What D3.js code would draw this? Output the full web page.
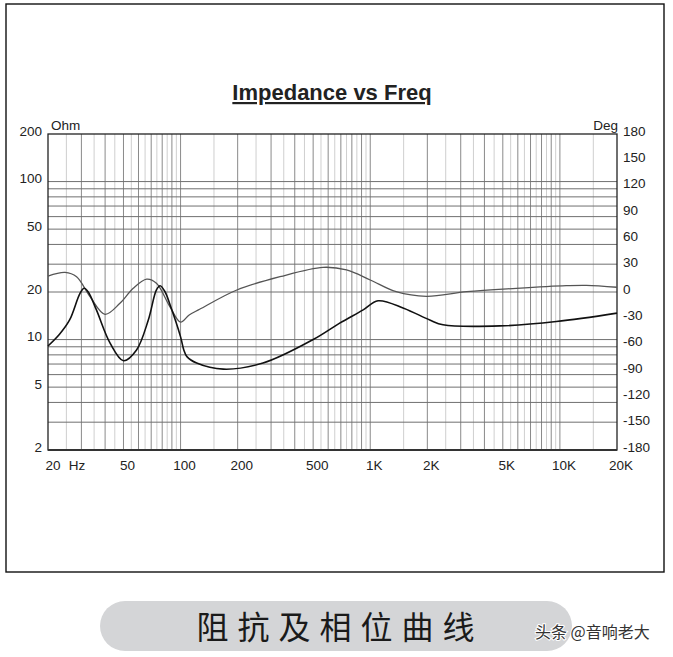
<!DOCTYPE html>
<html><head><meta charset="utf-8">
<script src="https://cdn.jsdelivr.net/npm/d3@7/dist/d3.min.js"></script>
<style>body{margin:0;background:#fff}svg{display:block}</style>
</head><body>
<svg id="c" width="673" height="657"></svg>
<script>
// ---- data ----
const impFreq = [20, 23, 26, 29.5, 31, 32.6, 36, 42.5, 50, 58.6, 67.6, 74.6, 78, 82.9, 88, 100, 104, 108, 121.6, 168, 272, 500, 690, 918, 1100, 1500, 2060, 2420, 4820, 9570, 20000];
const impOhm  = [9.1, 10.8, 13.3, 19.6, 21.1, 20.0, 15.4, 9.5, 7.35, 8.6, 13.3, 20.6, 21.9, 20.0, 16.6, 10.4, 8.6, 7.8, 7.1, 6.5, 7.1, 10, 12.7, 15.4, 17.6, 15.8, 13.3, 12.4, 12.2, 13.0, 14.7];
const phFreq = [20, 24.6, 28.3, 33.3, 40, 47.9, 56.3, 66.3, 74.6, 87.8, 100, 111, 126, 198, 334, 564, 750, 1000, 1370, 1980, 3230, 5890, 10800, 13800, 20000];
const phDeg  = [18.2, 22.4, 17.4, -5.3, -25.4, -12.9, 4.2, 14.6, 9.9, -16.7, -34.2, -26.2, -19.7, 2.3, 17.4, 28.1, 25.1, 13.7, 0.3, -5.0, 0.4, 4.2, 7.2, 7.6, 5.4];
const ohmTicks = [200, 100, 50, 20, 10, 5, 2];
const degTicks = [180, 150, 120, 90, 60, 30, 0, -30, -60, -90, -120, -150, -180];
const freqTicks = [50, 100, 200, 500, 1000, 2000, 5000, 10000, 20000];
const freqTickLabels = ["50", "100", "200", "500", "1K", "2K", "5K", "10K", "20K"];
const ohmGrid = [100, 90, 80, 70, 60, 50, 40, 30, 20, 10, 9, 8, 7, 6, 5, 4, 3];

// ---- layout ----
const L = 48, R = 617, T = 134, B = 450;
const svg = d3.select("#c");
const x = d3.scaleLog().domain([20, 20000]).range([L, R]);
const y = d3.scaleLog().domain([2, 200]).range([B, T]);
const yp = d3.scaleLinear().domain([-180, 180]).range([B, T]);

// outer frame
svg.append("rect").attr("x", 6).attr("y", 4).attr("width", 658).attr("height", 568)
  .attr("fill", "none").attr("stroke", "#111").attr("stroke-width", 1.4);

// title
svg.append("text").attr("x", 332).attr("y", 100).attr("text-anchor", "middle")
  .attr("font-family", "Liberation Sans, Arial, sans-serif").attr("font-weight", "bold")
  .attr("font-size", 22).attr("fill", "#222").attr("text-decoration", "underline")
  .text("Impedance vs Freq");

// vertical grid
const vg = [];
for (let d = 10; d <= 10000; d *= 10) {
  for (let m = 1; m < 10; m += 0.5) {
    const f = m * d;
    if (f > 20 && f < 20000) vg.push({f, major: Number.isInteger(m)});
  }
}
svg.append("g").selectAll("line").data(vg).join("line")
  .attr("x1", d => x(d.f)).attr("x2", d => x(d.f)).attr("y1", T).attr("y2", B)
  .attr("stroke", d => d.major ? "#8a8a8a" : "#cfcfcf").attr("stroke-width", 1);

// horizontal grid
svg.append("g").selectAll("line").data(ohmGrid).join("line")
  .attr("x1", L).attr("x2", R).attr("y1", d => y(d)).attr("y2", d => y(d))
  .attr("stroke", "#707070").attr("stroke-width", 1);

// plot border
svg.append("rect").attr("x", L).attr("y", T).attr("width", R - L).attr("height", B - T)
  .attr("fill", "none").attr("stroke", "#222").attr("stroke-width", 1.3);
svg.append("line").attr("x1", L).attr("x2", R).attr("y1", B).attr("y2", B)
  .attr("stroke", "#333").attr("stroke-width", 2);

const font = "Liberation Sans, Arial, sans-serif";
// left labels
svg.append("g").selectAll("text").data(ohmTicks).join("text")
  .attr("x", 42).attr("y", d => y(d) - 3).attr("dy", "0.35em").attr("text-anchor", "end")
  .attr("font-family", font).attr("font-size", 13.5).attr("fill", "#222").text(d => d);
svg.append("text").attr("x", 51).attr("y", 130).attr("font-family", font).attr("font-size", 13.5)
  .attr("fill", "#222").text("Ohm");
// right labels
svg.append("g").selectAll("text").data(degTicks).join("text")
  .attr("x", 623).attr("y", d => yp(d) - 3).attr("dy", "0.35em").attr("text-anchor", "start")
  .attr("font-family", font).attr("font-size", 13.5).attr("fill", "#222").text(d => d);
svg.append("text").attr("x", 618).attr("y", 130).attr("text-anchor", "end").attr("font-family", font)
  .attr("font-size", 13.5).attr("fill", "#222").text("Deg");
// x labels
svg.append("g").selectAll("text").data(freqTicks).join("text")
  .attr("x", d => x(d) + 4).attr("y", 465).attr("dy", "0.35em").attr("text-anchor", "middle")
  .attr("font-family", font).attr("font-size", 13.5).attr("fill", "#222")
  .text((d, i) => freqTickLabels[i]);
svg.append("text").attr("x", x(20) + 5).attr("y", 465).attr("dy", "0.35em").attr("text-anchor", "middle")
  .attr("font-family", font).attr("font-size", 13.5).attr("fill", "#222").text("20");
svg.append("text").attr("x", 77).attr("y", 465).attr("dy", "0.35em").attr("text-anchor", "middle")
  .attr("font-family", font).attr("font-size", 13.5).attr("fill", "#222").text("Hz");

// curves
const phaseLine = d3.line().x((d, i) => x(phFreq[i])).y(d => yp(d)).curve(d3.curveCatmullRom.alpha(0.5));
svg.append("path").attr("d", phaseLine(phDeg)).attr("fill", "none").attr("stroke", "#555").attr("stroke-width", 1.3);
const impLine = d3.line().x((d, i) => x(impFreq[i])).y(d => y(d)).curve(d3.curveCatmullRom.alpha(0.5));
svg.append("path").attr("d", impLine(impOhm)).attr("fill", "none").attr("stroke", "#111").attr("stroke-width", 1.6);

// banner
svg.append("rect").attr("x", 100).attr("y", 601).attr("width", 472).attr("height", 50).attr("rx", 25)
  .attr("fill", "#d4d5d7");
svg.append("text").attr("x", 340).attr("y", 627).attr("dy", "0.36em").attr("text-anchor", "middle")
  .attr("font-family", "Noto Sans CJK SC, sans-serif").attr("font-size", 32).attr("letter-spacing", 9)
  .attr("fill", "#1a1a1a").text("阻抗及相位曲线");
// watermark
svg.append("text").attr("x", 535).attr("y", 632).attr("dy", "0.36em")
  .attr("font-family", "Noto Sans CJK SC, sans-serif").attr("font-size", 16)
  .attr("fill", "#333").attr("stroke", "#fff").attr("stroke-width", 2).attr("paint-order", "stroke")
  .text("头条 @音响老大");
</script>
</body></html>
